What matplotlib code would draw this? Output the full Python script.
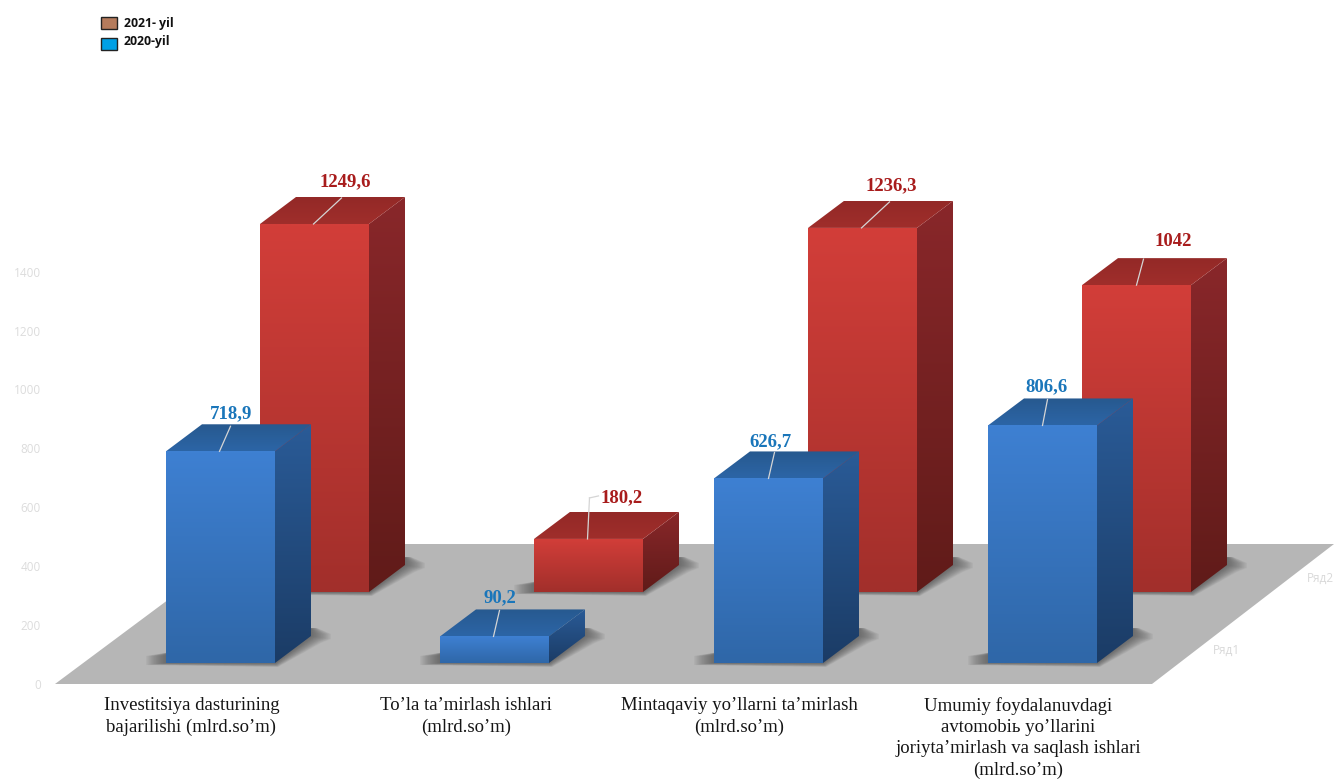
import numpy as np
import matplotlib
matplotlib.use("Agg")
import matplotlib.pyplot as plt
from matplotlib.colors import to_rgb
from matplotlib.patches import Polygon, Rectangle
from matplotlib.transforms import Affine2D

# data
categories = [
    "Investitsiya dasturining\nbajarilishi (mlrd.so’m)",
    "To’la ta’mirlash ishlari\n(mlrd.so’m)",
    "Mintaqaviy yo’llarni ta’mirlash\n(mlrd.so’m)",
    "Umumiy foydalanuvdagi\navtomobiь yo’llarini\njoriyta’mirlash va saqlash ishlari\n(mlrd.so’m)",
]
values_2020 = [718.9, 90.2, 626.7, 806.6]
values_2021 = [1249.6, 180.2, 1236.3, 1042]
labels_2020 = ["718,9", "90,2", "626,7", "806,6"]
labels_2021 = ["1249,6", "180,2", "1236,3", "1042"]
y_ticks = [0, 200, 400, 600, 800, 1000, 1200, 1400]
legend_names = ["2021- yil", "2020-yil"]
series_names = ["Ряд1", "Ряд2"]

# layout, in pixels of the 1334x780 picture
W, H = 1334, 780
PX_PER_CAT = 274.0
PX_PER_VAL = 0.2945
ZERO_Y = 684
FIRST_X = 220.5
BAR_W = 109
DEPTH_DX, DEPTH_DY = 36, 27
BLUE_BOTTOM, RED_BOTTOM = 663, 592
RED_DX = 94

CAT_LABEL_X = [191.5, 466, 739.5, 1018]
CAT_LABEL_Y = 697
BLUE_LABEL_POS = [(231, 414), (500, 598), (771, 442), (1046, 387)]
RED_LABEL_POS = [(345, 182), (622, 498), (891, 186), (1173, 241)]
BLUE_LEADER = [(-1, 11, 25), (-1, 6, 26), (0, 6, 26), (0, 5, 26)]
RED_LEADER = [(-1, 28, 26), (-1, 2, 41), (-1, 28, 26), (0, 7, 26)]

plt.rcParams["font.family"] = ["Liberation Serif", "DejaVu Serif"]

fig = plt.figure(figsize=(W / 100, H / 100), dpi=100)
ax = fig.add_axes([0, 0, 1, 1])
px = Affine2D().scale(1, -1).translate(0, H)  # picture pixels, y going down

XU = 1 / PX_PER_CAT
YU = 1 / PX_PER_VAL


def face(verts, top, bottom, z):
    verts = np.array(verts)
    poly = Polygon(verts, closed=True, transform=ax.transData)
    ramp = np.linspace(to_rgb(top), to_rgb(bottom), 64)[:, None, :]
    im = ax.imshow(ramp, extent=(verts[:, 0].min(), verts[:, 0].max(), verts[:, 1].min(), verts[:, 1].max()),
                   origin="upper", aspect="auto", interpolation="bilinear", zorder=z)
    im.set_clip_path(poly)


def shadow(x0, base, z):
    dx, dy = DEPTH_DX * XU, DEPTH_DY * YU
    x1 = x0 + BAR_W * XU
    n = 16
    for k in range(n):
        e = (n - k) / n
        pts = [(x0 - 20 * e * XU, base - 2 * e * YU),
               (x0 - 20 * e * XU, base + 7 * YU),
               (x0 + 5 * XU, base + 11 * YU),
               (x0 + dx, base + dy),
               (x1 + dx + 6 * e * XU, base + dy + 8 * YU),
               (x1 + dx + 20 * e * XU, base + dy + 2 * YU),
               (x1 + dx + 20 * e * XU, base + dy - 3 * e * YU),
               (x1 + dx + 10 * e * XU, base + dy - 7 * e * YU),
               (x1 + 3 * e * XU, base - 4 * e * YU)]
        ax.add_patch(Polygon(pts, closed=True, fc="#4a4a4a", ec="none", alpha=0.06, zorder=z))


def bar3d(center, value, bottom_px, colors, z):
    x0 = center - BAR_W * XU / 2
    x1 = center + BAR_W * XU / 2
    base = (ZERO_Y - bottom_px) * YU
    top = base + value
    dx, dy = DEPTH_DX * XU, DEPTH_DY * YU
    shadow(x0, base, z)
    face([(x1, base), (x1 + dx, base + dy), (x1 + dx, top + dy), (x1, top)], colors[2], colors[3], z + 1)
    face([(x0, top), (x1, top), (x1 + dx, top + dy), (x0 + dx, top + dy)], colors[4], colors[5], z + 1)
    face([(x0, base), (x1, base), (x1, top), (x0, top)], colors[0], colors[1], z + 2)
    return center, top


blue = ["#3e80d2", "#2f67a8", "#2a5b97", "#1b3c66", "#27598f", "#2c65a6"]
red = ["#d23e39", "#a22f2b", "#89272a", "#601b19", "#932927", "#a02e2b"]

# floor
ax.add_patch(Polygon([(55, 684), (1152, 684), (1334, 544), (243, 544)], closed=True,
                     transform=px, fc="#b6b6b6", ec="none", zorder=1))

red_tops = []
blue_tops = []
for i in range(len(categories)):
    red_tops.append(bar3d(i + RED_DX * XU, values_2021[i], RED_BOTTOM, red, 3))
for i in range(len(categories)):
    blue_tops.append(bar3d(i, values_2020[i], BLUE_BOTTOM, blue, 7))

# leader lines and value labels
for tops, leaders, names, pos, col, z in [
    (red_tops, RED_LEADER, labels_2021, RED_LABEL_POS, "#a81c1c", 6),
    (blue_tops, BLUE_LEADER, labels_2020, BLUE_LABEL_POS, "#1a76ba", 10),
]:
    for (cx, ty), (a, b, c), name, p in zip(tops, leaders, names, pos):
        ax.plot([cx + a * XU, cx + (a + b) * XU], [ty, ty + c * YU], color="#d5d5d5", lw=0.9, zorder=z)
        ax.text(p[0], p[1], name, transform=px, ha="center", va="center", color=col,
                fontsize=13.5, fontweight="bold", zorder=12)

# the short red label sits off to the side, so its leader has a small hook
cx, ty = red_tops[1]
ax.plot([cx + 1 * XU, cx + 10 * XU], [ty + 41 * YU, ty + 43 * YU], color="#d5d5d5", lw=0.9, zorder=6)

# category labels
for x, name in zip(CAT_LABEL_X, categories):
    ax.text(x, CAT_LABEL_Y, name, transform=px, ha="center", va="top", color="#151515",
            fontsize=13.5, linespacing=1.32)

# series names on the depth axis
ax.text(1227, 650, series_names[0], transform=px, ha="center", va="center", color="#d9d9d9",
        fontsize=8.5, family="Open Sans")
ax.text(1320, 578, series_names[1], transform=px, ha="center", va="center", color="#d9d9d9",
        fontsize=8.5, family="Open Sans")

# legend
for (y0, h), col, name, ty in zip([(17, 12), (38, 12)], ["#b57b5c", "#00a0e6"], legend_names, [24, 42]):
    ax.add_patch(Rectangle((101, y0), 16, h, transform=px, fc=col, ec="#222222", lw=1, zorder=12))
    ax.text(124, ty, name, transform=px, ha="left", va="center", color="#111111",
            fontsize=8.8, fontweight="bold", family="Open Sans")

ax.set_xlim((0 - FIRST_X) * XU, (W - FIRST_X) * XU)
ax.set_ylim((ZERO_Y - H) * YU, ZERO_Y * YU)
ax.set_xticks([])
ax.set_yticks(y_ticks)
ax.tick_params(axis="y", length=0, pad=-29.5, labelcolor="#dcdcdc", labelsize=8.5)
for lab in ax.get_yticklabels():
    lab.set_family("Open Sans")
for s in ax.spines.values():
    s.set_visible(False)
ax.patch.set_alpha(0)

fig.savefig("out.png", dpi=100)
